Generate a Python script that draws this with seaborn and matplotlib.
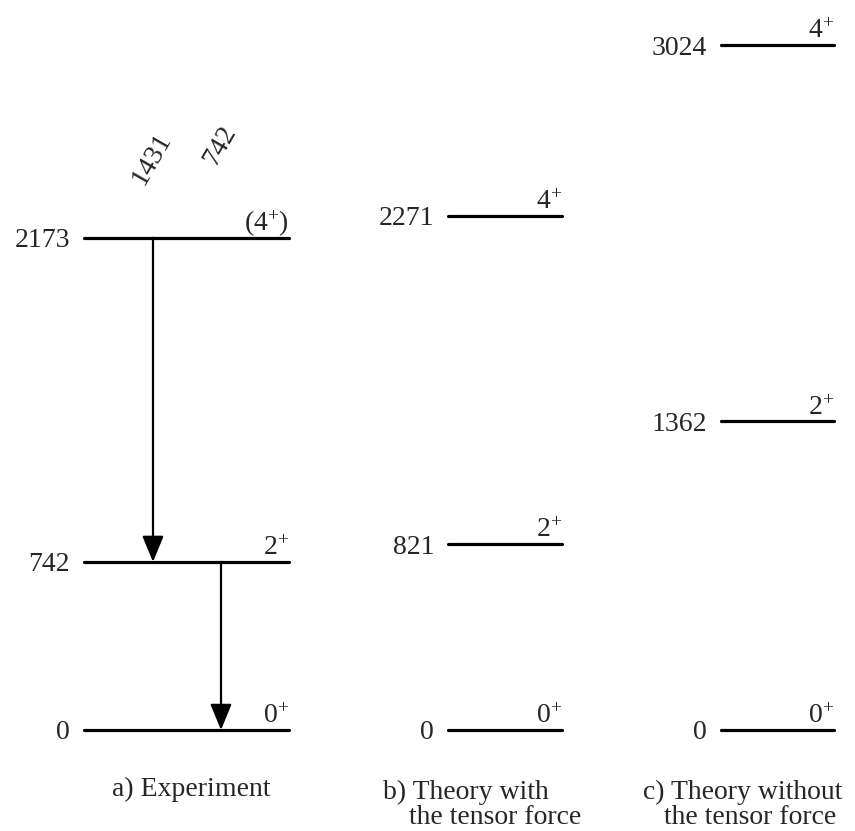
import matplotlib
matplotlib.use("Agg")
import matplotlib.pyplot as plt
import seaborn as sns
import pandas as pd

# Level energies (keV) and spin-parity labels for each scheme
exp_energies = [0, 742, 2173]
exp_spins = ["0^{+}", "2^{+}", "(4^{+})"]
tensor_energies = [0, 821, 2271]
tensor_spins = ["0^{+}", "2^{+}", "4^{+}"]
notensor_energies = [0, 1362, 3024]
notensor_spins = ["0^{+}", "2^{+}", "4^{+}"]

# Observed gamma transitions in the experimental scheme
gamma_from = [2173, 742]
gamma_to = [742, 0]
gamma_labels = ["1431", "742"]

captions = [["a) Experiment"],
            ["b) Theory with", "the tensor force"],
            ["c) Theory without", "the tensor force"]]

sns.set_theme(style="white")
plt.rcParams["font.family"] = ["Liberation Serif", "DejaVu Serif"]
plt.rcParams["mathtext.fontset"] = "custom"
plt.rcParams["mathtext.rm"] = "Liberation Serif"
plt.rcParams["mathtext.it"] = "Liberation Serif:italic"

W, H = 855, 831
fig = plt.figure(figsize=(W / 100, H / 100), dpi=100)
ax = fig.add_axes([0, 0, 1, 1])

FS = 20
schemes = [
    (exp_energies, exp_spins, (84, 289)),
    (tensor_energies, tensor_spins, (448, 562)),
    (notensor_energies, notensor_spins, (721, 834)),
]

rows = []
for si, (energies, spins, (x0, x1)) in enumerate(schemes):
    for li, e in enumerate(energies):
        rows.append({"x": x0, "energy": e, "level": f"{si}-{li}"})
        rows.append({"x": x1, "energy": e, "level": f"{si}-{li}"})
levels = pd.DataFrame(rows)

sns.lineplot(data=levels, x="x", y="energy", units="level", estimator=None,
             sort=False, color="black", lw=2.3, ax=ax, legend=False)
ax.set_xlim(0, W)
ax.set_ylim(-445.9, 3222.7)
ax.axis("off")

for energies, spins, (x0, x1) in schemes:
    for e, s in zip(energies, spins):
        ax.annotate(str(e), xy=(x0, e), xytext=(-10, 0), textcoords="offset points",
                    ha="right", va="center_baseline", fontsize=FS)
        ax.annotate(r"$\mathrm{" + s + "}$", xy=(x1, e), xytext=(0, 5),
                    textcoords="offset points", ha="right", va="baseline", fontsize=FS)

# Gamma-ray arrows between experimental levels, with rotated energy labels
gamma_x = [153, 221]
label_rise = [57, 66]
for gx, ef, et, lab, rise in zip(gamma_x, gamma_from, gamma_to, gamma_labels, label_rise):
    ax.annotate("", xy=(gx, et), xytext=(gx, ef),
                arrowprops=dict(arrowstyle="-|>,head_length=0.8,head_width=0.33",
                                mutation_scale=20, lw=1.6, color="black",
                                shrinkA=0, shrinkB=0))
    ax.annotate(lab, xy=(gx, max(gamma_from)), xytext=(-1, rise), textcoords="offset points",
                ha="center", va="center", rotation=60, fontsize=FS)

# Scheme captions
cap_pos = [[(112, 789)], [(383, 792), (409, 817)], [(643, 792), (664, 817)]]
for lines, pos in zip(captions, cap_pos):
    for txt, (px, py) in zip(lines, pos):
        fig.text(px / W, 1 - py / H, txt, ha="left", va="center", fontsize=FS)

fig.savefig("out.png", dpi=100, facecolor="white")
